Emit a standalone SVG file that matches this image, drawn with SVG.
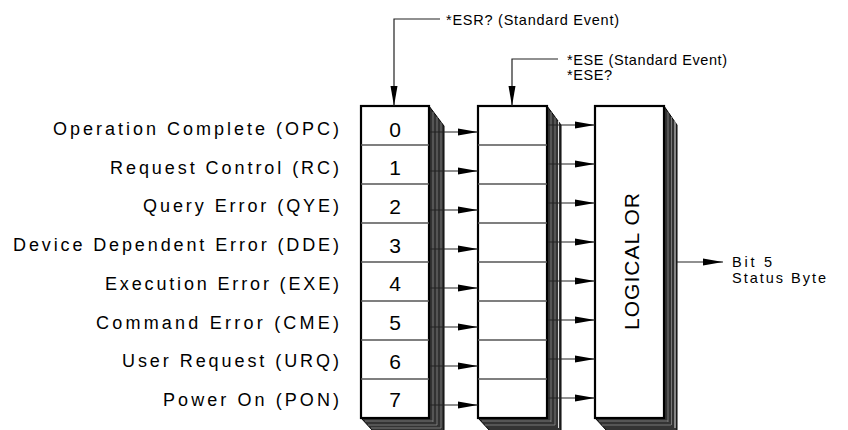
<svg xmlns="http://www.w3.org/2000/svg" width="848" height="430" viewBox="0 0 848 430">
<defs>
<style>
text{font-family:"Liberation Sans",Arial,sans-serif;fill:#000}
.lbl{font-size:18px;text-anchor:end}
.dig{font-size:21px;text-anchor:middle}
.small{font-size:14.5px}
.box{fill:#fff;stroke:#000;stroke-width:2.2}
.shadow{fill:#333;stroke:#000;stroke-width:1}
.stripe{stroke:#8a8a8a;stroke-width:0.8}
.row{stroke:#555;stroke-width:1.3}
.conn{stroke:#222;stroke-width:1.2;fill:none}
</style>
<marker id="ah" markerUnits="userSpaceOnUse" markerWidth="21" markerHeight="9" refX="20" refY="4.5" orient="auto">
<path d="M0,1 L20,4.5 L0,8 Z" fill="#000"/>
</marker>
</defs>

<g id="labels">
<text class="lbl" x="339" y="135" textLength="286" lengthAdjust="spacing">Operation Complete (OPC)</text>
<text class="lbl" x="339" y="173.7" textLength="229" lengthAdjust="spacing">Request Control (RC)</text>
<text class="lbl" x="339" y="212.4" textLength="196" lengthAdjust="spacing">Query Error (QYE)</text>
<text class="lbl" x="339" y="251.1" textLength="326" lengthAdjust="spacing">Device Dependent Error (DDE)</text>
<text class="lbl" x="339" y="289.8" textLength="234" lengthAdjust="spacing">Execution Error (EXE)</text>
<text class="lbl" x="339" y="328.5" textLength="243" lengthAdjust="spacing">Command Error (CME)</text>
<text class="lbl" x="339" y="367.2" textLength="217" lengthAdjust="spacing">User Request (URQ)</text>
<text class="lbl" x="339" y="405.9" textLength="176" lengthAdjust="spacing">Power On (PON)</text>
</g>

<g id="esr-register">
<polygon class="shadow" points="429,106 444,126 444,431 373,431 361,418"/>
<line class="stripe" x1="433" y1="112" x2="433" y2="422"/>
<line class="stripe" x1="437" y1="117" x2="437" y2="425"/>
<line class="stripe" x1="441" y1="122" x2="441" y2="428"/>
<line class="stripe" x1="365" y1="421" x2="433" y2="421"/>
<line class="stripe" x1="368" y1="425" x2="437" y2="425"/>
<line class="stripe" x1="371" y1="428" x2="441" y2="428"/>
<rect class="box" x="361" y="106" width="68" height="312"/>
<g class="row">
<line x1="361" y1="145" x2="429" y2="145"/>
<line x1="361" y1="184" x2="429" y2="184"/>
<line x1="361" y1="223" x2="429" y2="223"/>
<line x1="361" y1="262" x2="429" y2="262"/>
<line x1="361" y1="301" x2="429" y2="301"/>
<line x1="361" y1="340" x2="429" y2="340"/>
<line x1="361" y1="379" x2="429" y2="379"/>
</g>
<text class="dig" x="395" y="136.5">0</text>
<text class="dig" x="395" y="175.2">1</text>
<text class="dig" x="395" y="213.9">2</text>
<text class="dig" x="395" y="252.6">3</text>
<text class="dig" x="395" y="291.3">4</text>
<text class="dig" x="395" y="330">5</text>
<text class="dig" x="395" y="368.7">6</text>
<text class="dig" x="395" y="407.4">7</text>
</g>

<g id="ese-register">
<polygon class="shadow" points="547,106 561,125 561,431 490,431 478,418"/>
<line class="stripe" x1="551" y1="112" x2="551" y2="422"/>
<line class="stripe" x1="555" y1="117" x2="555" y2="425"/>
<line x1="558.5" y1="121" x2="558.5" y2="428" stroke="#ddd" stroke-width="1"/>
<line class="stripe" x1="482" y1="421" x2="551" y2="421"/>
<line class="stripe" x1="485" y1="425" x2="555" y2="425"/>
<rect class="box" x="478" y="106" width="69" height="312"/>
<g class="row">
<line x1="478" y1="145" x2="547" y2="145"/>
<line x1="478" y1="184" x2="547" y2="184"/>
<line x1="478" y1="223" x2="547" y2="223"/>
<line x1="478" y1="262" x2="547" y2="262"/>
<line x1="478" y1="301" x2="547" y2="301"/>
<line x1="478" y1="340" x2="547" y2="340"/>
<line x1="478" y1="379" x2="547" y2="379"/>
</g>
</g>

<g id="logical-or">
<polygon class="shadow" points="664,106 677,125 677,431 607,431 595,418"/>
<line class="stripe" x1="668" y1="112" x2="668" y2="422"/>
<line class="stripe" x1="671.5" y1="117" x2="671.5" y2="425"/>
<line x1="675" y1="121" x2="675" y2="428" stroke="#ddd" stroke-width="1"/>
<line class="stripe" x1="599" y1="421" x2="668" y2="421"/>
<line class="stripe" x1="602" y1="425" x2="671" y2="425"/>
<rect class="box" x="595" y="106" width="69" height="312"/>
<text x="0" y="0" font-size="21" text-anchor="middle" textLength="137" lengthAdjust="spacing" transform="translate(639,261.5) rotate(-90)">LOGICAL OR</text>
</g>

<g id="esr-query-label">
<text class="small" x="446" y="25" textLength="173" lengthAdjust="spacing">*ESR? (Standard Event)</text>
</g>
<g id="ese-label">
<text class="small" x="567" y="65" textLength="160" lengthAdjust="spacing">*ESE (Standard Event)</text>
<text class="small" x="567" y="80" textLength="45" lengthAdjust="spacing">*ESE?</text>
</g>
<g id="status-byte-label">
<text class="small" x="732" y="267" textLength="40" lengthAdjust="spacing">Bit 5</text>
<text class="small" x="732" y="283" textLength="94" lengthAdjust="spacing">Status Byte</text>
</g>

<g id="connectors">
<polyline class="conn" points="440,19 394,19 394,106" marker-end="url(#ah)"/>
<polyline class="conn" points="558,59 512,59 512,106" marker-end="url(#ah)"/>
<line class="conn" x1="430" y1="132" x2="478" y2="132" marker-end="url(#ah)"/>
<line class="conn" x1="430" y1="171" x2="478" y2="171" marker-end="url(#ah)"/>
<line class="conn" x1="430" y1="210" x2="478" y2="210" marker-end="url(#ah)"/>
<line class="conn" x1="430" y1="249" x2="478" y2="249" marker-end="url(#ah)"/>
<line class="conn" x1="430" y1="288" x2="478" y2="288" marker-end="url(#ah)"/>
<line class="conn" x1="430" y1="327" x2="478" y2="327" marker-end="url(#ah)"/>
<line class="conn" x1="430" y1="366" x2="478" y2="366" marker-end="url(#ah)"/>
<line class="conn" x1="430" y1="405" x2="478" y2="405" marker-end="url(#ah)"/>
<line class="conn" x1="548" y1="125" x2="595" y2="125" marker-end="url(#ah)"/>
<line class="conn" x1="548" y1="164" x2="595" y2="164" marker-end="url(#ah)"/>
<line class="conn" x1="548" y1="203" x2="595" y2="203" marker-end="url(#ah)"/>
<line class="conn" x1="548" y1="242" x2="595" y2="242" marker-end="url(#ah)"/>
<line class="conn" x1="548" y1="281" x2="595" y2="281" marker-end="url(#ah)"/>
<line class="conn" x1="548" y1="320" x2="595" y2="320" marker-end="url(#ah)"/>
<line class="conn" x1="548" y1="359" x2="595" y2="359" marker-end="url(#ah)"/>
<line class="conn" x1="548" y1="398" x2="595" y2="398" marker-end="url(#ah)"/>
<line class="conn" x1="677" y1="262" x2="723" y2="262" marker-end="url(#ah)"/>
</g>
</svg>
